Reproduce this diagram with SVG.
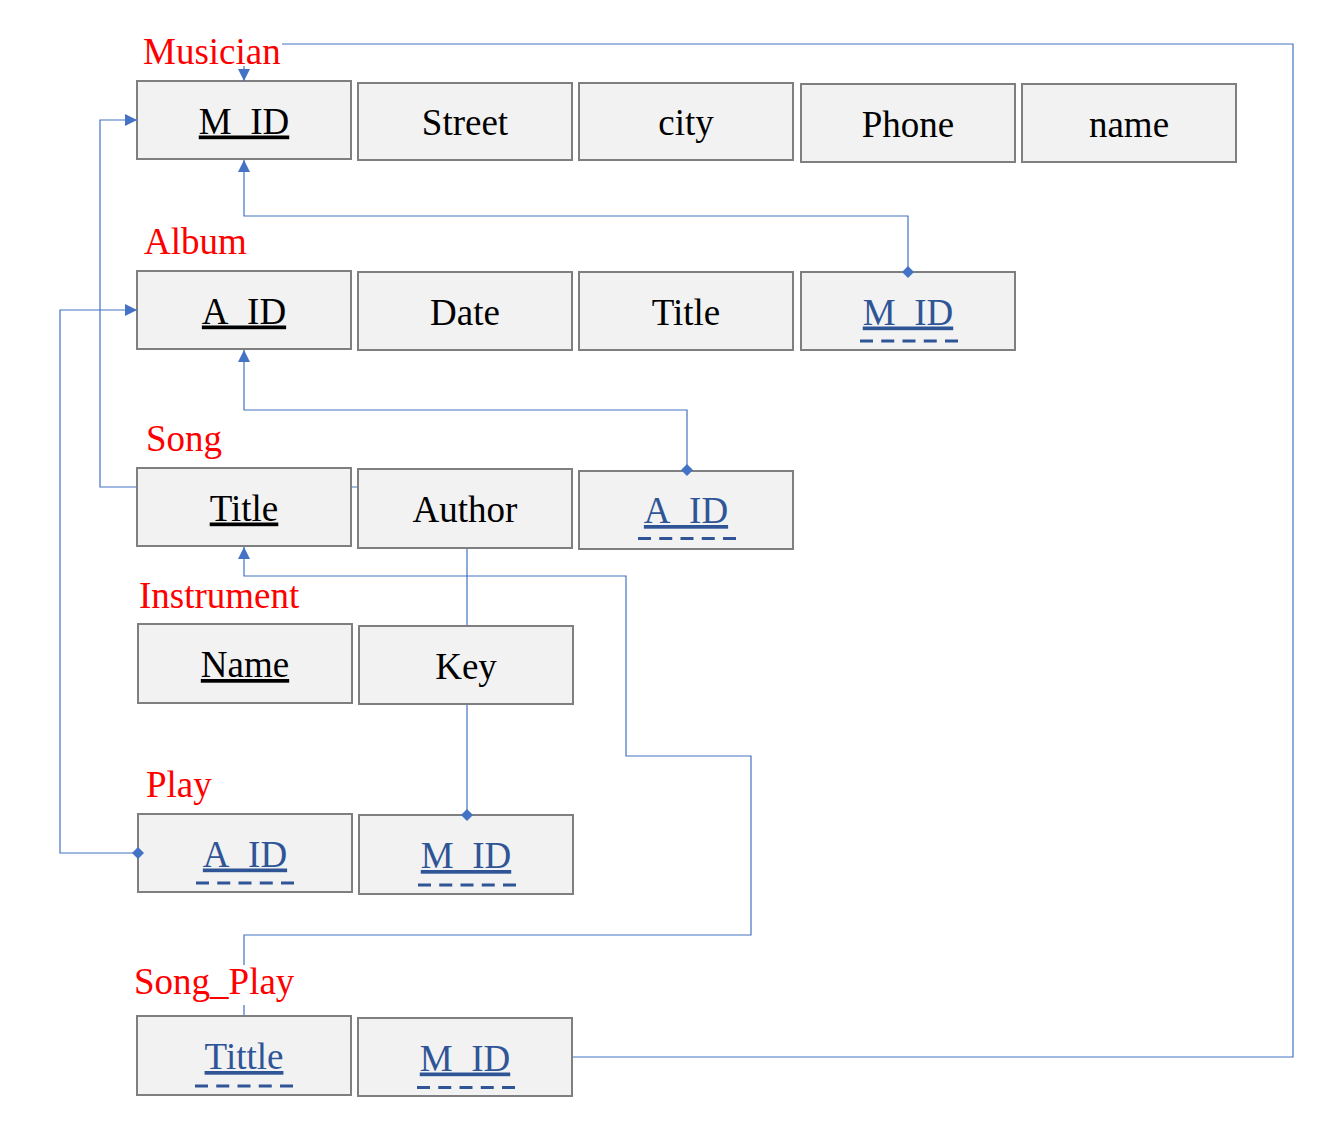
<svg xmlns="http://www.w3.org/2000/svg" width="1327" height="1127" viewBox="0 0 1327 1127">
<style>
.box{fill:#F2F2F2;stroke:#7F7F7F;stroke-width:2}
.t{font-family:"Liberation Serif","Times New Roman",serif;font-size:37px;text-anchor:middle;fill:#000}
.k{text-decoration:underline}
.fk{fill:#2F5597;text-decoration:underline}
.dash{stroke:#2F5597;stroke-width:3;stroke-dasharray:13 8.25;fill:none}
.lbl{font-family:"Liberation Serif","Times New Roman",serif;font-size:37px;fill:#FF0000}
.c{fill:none;stroke:#4472C4;stroke-width:1.2}
</style>
<defs>
<marker id="arrow" markerUnits="userSpaceOnUse" markerWidth="12" markerHeight="12" refX="12" refY="6" orient="auto"><path d="M0,0 L12,6 L0,12 z" fill="#4472C4"/></marker>
<marker id="dia" markerUnits="userSpaceOnUse" markerWidth="12" markerHeight="12" refX="6" refY="6" orient="auto"><path d="M6,0 L12,6 L6,12 L0,6 z" fill="#4472C4"/></marker>
</defs>
<rect width="1327" height="1127" fill="#FFFFFF"/>
<g id="musician">
<text class="lbl" x="143" y="64">Musician</text>
<g id="musician-mid"><rect class="box" x="137" y="81" width="214" height="78"/><text class="t k" x="244" y="133.5">M_ID</text></g>
<g id="musician-street"><rect class="box" x="358" y="83" width="214" height="77"/><text class="t" x="465" y="135">Street</text></g>
<g id="musician-city"><rect class="box" x="579" y="83" width="214" height="77"/><text class="t" x="686" y="135">city</text></g>
<g id="musician-phone"><rect class="box" x="801" y="84" width="214" height="78"/><text class="t" x="908" y="136.5">Phone</text></g>
<g id="musician-name"><rect class="box" x="1022" y="84" width="214" height="78"/><text class="t" x="1129" y="136.5">name</text></g>
</g>
<g id="album">
<text class="lbl" x="144" y="254">Album</text>
<g id="album-aid"><rect class="box" x="137" y="271" width="214" height="78"/><text class="t k" x="244" y="323.5">A_ID</text></g>
<g id="album-date"><rect class="box" x="358" y="272" width="214" height="78"/><text class="t" x="465" y="324.5">Date</text></g>
<g id="album-title"><rect class="box" x="579" y="272" width="214" height="78"/><text class="t" x="686" y="324.5">Title</text></g>
<g id="album-mid"><rect class="box" x="801" y="272" width="214" height="78"/><text class="t fk" x="908" y="324.5">M_ID</text><line class="dash" x1="860" y1="341" x2="958" y2="341"/></g>
</g>
<g id="song">
<text class="lbl" x="146" y="451">Song</text>
<g id="song-title"><rect class="box" x="137" y="468" width="214" height="78"/><text class="t k" x="244" y="520.5">Title</text></g>
<g id="song-author"><rect class="box" x="358" y="469" width="214" height="79"/><text class="t" x="465" y="522">Author</text></g>
<g id="song-aid"><rect class="box" x="579" y="471" width="214" height="78"/><text class="t fk" x="686" y="523">A_ID</text><line class="dash" x1="638" y1="538.5" x2="736" y2="538.5"/></g>
</g>
<g id="instrument">
<text class="lbl" x="139" y="608">Instrument</text>
<g id="instrument-name"><rect class="box" x="138" y="624" width="214" height="79"/><text class="t k" x="245" y="677">Name</text></g>
<g id="instrument-key"><rect class="box" x="359" y="626" width="214" height="78"/><text class="t" x="466" y="678.5">Key</text></g>
</g>
<g id="play">
<text class="lbl" x="146" y="797">Play</text>
<g id="play-aid"><rect class="box" x="138" y="814" width="214" height="78"/><text class="t fk" x="245" y="866.5">A_ID</text><line class="dash" x1="196" y1="883" x2="294" y2="883"/></g>
<g id="play-mid"><rect class="box" x="359" y="815" width="214" height="79"/><text class="t fk" x="466" y="868">M_ID</text><line class="dash" x1="418" y1="885" x2="516" y2="885"/></g>
</g>
<g id="song_play">
<text class="lbl" x="134" y="994">Song_Play</text>
<g id="songplay-tittle"><rect class="box" x="137" y="1016" width="214" height="79"/><text class="t fk" x="244" y="1069">Tittle</text><line class="dash" x1="195" y1="1086" x2="293" y2="1086"/></g>
<g id="songplay-mid"><rect class="box" x="358" y="1018" width="214" height="78"/><text class="t fk" x="465" y="1070.5">M_ID</text><line class="dash" x1="417" y1="1087.5" x2="515" y2="1087.5"/></g>
</g>
<g id="connectors">
<path class="c" d="M573,1057 H1293 V44 H282 M244,66 V81" marker-end="url(#arrow)"/>
<path class="c" d="M908,272 V216 H244 V160" marker-start="url(#dia)" marker-end="url(#arrow)"/>
<path class="c" d="M687,470 V410 H244 V350" marker-start="url(#dia)" marker-end="url(#arrow)"/>
<path class="c" d="M357,487 H352 M136,487 H100 V120 H137" marker-end="url(#arrow)"/>
<path class="c" d="M138,853 H60 V310 H137" marker-start="url(#dia)" marker-end="url(#arrow)"/>
<path class="c" d="M467,549 V625 M467,705 V815" marker-end="url(#dia)"/>
<path class="c" d="M244,1015 V1005 M244,965 V935 H751 V756 H626 V576 H244 V547" marker-end="url(#arrow)"/>
</g>
</svg>
